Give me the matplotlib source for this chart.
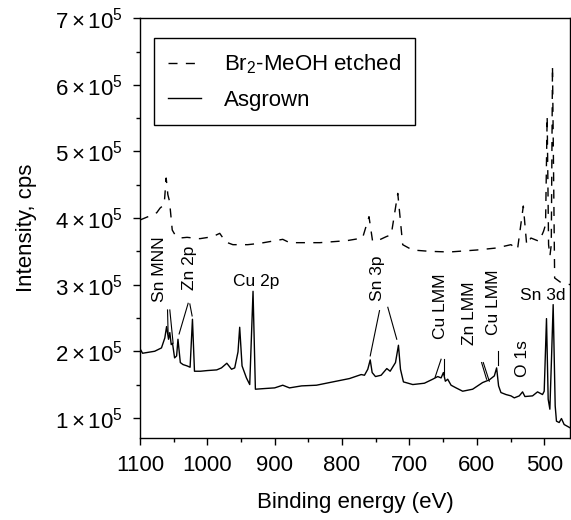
import matplotlib
matplotlib.use("Agg")
import matplotlib.pyplot as plt
from matplotlib.ticker import MultipleLocator, FixedLocator, FixedFormatter

plt.rcParams['font.family'] = ['Liberation Sans', 'DejaVu Sans']
plt.rcParams['mathtext.fontset'] = 'custom'
plt.rcParams['mathtext.rm'] = 'Liberation Sans'
plt.rcParams['mathtext.it'] = 'Liberation Sans:italic'
plt.rcParams['mathtext.bf'] = 'Liberation Sans:bold'

# ---------------- data ----------------
asgrown_ev = [1100, 1096, 1090, 1078, 1068, 1063, 1060.4, 1057.5, 1055.6, 1053.5, 1051.6,
              1048.5, 1045.5, 1043.5, 1040, 1036, 1030, 1025.5, 1022, 1019, 1010, 1000, 986,
              979, 971, 964, 959.3, 954.4, 951.9, 948.4, 941.9, 937, 932.1, 928.6, 915, 900,
              888, 878, 860, 838, 813.6, 789, 771.6, 766.7, 761.8, 758.2, 755.3, 750.4, 742,
              733.6, 728.6, 720.7, 716.3, 713.3, 708.9, 695, 677.8, 665.5, 658, 653, 649.6,
              646.7, 643.2, 638.2, 630.8, 621, 606.2, 591.4, 581.5, 574, 570.6, 567.7, 564.2,
              556.7, 549.3, 544.4, 537, 532.1, 528.6, 517.3, 509.9, 502.5, 500, 496.6, 494.1,
              491.6, 489.2, 486.7, 483.7, 481.8, 477.8, 474.4, 470.4, 461.5]
asgrown_i = [2.04e5, 1.97e5, 1.98e5, 2.00e5, 2.05e5, 2.20e5, 2.37e5, 2.18e5, 2.28e5, 2.10e5, 2.12e5,
             1.90e5, 1.93e5, 2.18e5, 1.83e5, 1.80e5, 1.78e5, 1.76e5, 2.48e5, 1.70e5, 1.70e5, 1.71e5, 1.72e5,
             1.75e5, 1.82e5, 1.73e5, 1.75e5, 1.99e5, 2.36e5, 1.78e5, 1.60e5, 1.50e5, 2.90e5, 1.43e5, 1.44e5, 1.45e5,
             1.49e5, 1.45e5, 1.48e5, 1.49e5, 1.54e5, 1.59e5, 1.65e5, 1.64e5, 1.73e5, 1.87e5, 1.68e5, 1.62e5, 1.64e5,
             1.74e5, 1.70e5, 1.83e5, 2.09e5, 1.73e5, 1.54e5, 1.50e5, 1.52e5, 1.58e5, 1.62e5, 1.60e5, 1.68e5,
             1.55e5, 1.58e5, 1.49e5, 1.45e5, 1.40e5, 1.43e5, 1.53e5, 1.57e5, 1.63e5, 1.75e5, 1.48e5, 1.38e5,
             1.35e5, 1.33e5, 1.30e5, 1.33e5, 1.39e5, 1.32e5, 1.33e5, 1.39e5, 1.35e5, 1.40e5, 2.49e5, 1.28e5,
             1.13e5, 1.88e5, 2.70e5, 1.18e5, 0.95e5, 0.93e5, 0.99e5, 0.90e5, 0.85e5]

etched_ev = [1100, 1088, 1075, 1070, 1064, 1061, 1058.5, 1056, 1052, 1048, 1040.7, 1030, 1011,
             992, 981.5, 972.6, 962, 940, 922, 888, 877.8, 850, 833, 793, 769.6, 760, 754.8,
             749.3, 734.5, 727, 717.3, 710, 695.6, 670, 640.7, 600, 571, 549.3, 539.6, 531,
             526, 519.7, 507.4, 501, 498, 495.6, 493.5, 491.5, 489.5, 487.7, 484.5, 475, 461.5]
etched_i = [3.97e5, 4.02e5, 4.08e5, 4.15e5, 4.20e5, 4.60e5, 4.35e5, 4.25e5, 3.82e5, 3.75e5, 3.70e5, 3.71e5, 3.69e5,
            3.72e5, 3.77e5, 3.64e5, 3.60e5, 3.60e5, 3.62e5, 3.68e5, 3.63e5, 3.63e5, 3.63e5, 3.66e5, 3.70e5, 4.02e5, 3.66e5,
            3.65e5, 3.72e5, 3.75e5, 4.37e5, 3.60e5, 3.52e5, 3.50e5, 3.49e5, 3.52e5, 3.55e5, 3.60e5, 3.53e5, 4.18e5,
            3.60e5, 3.70e5, 3.65e5, 3.80e5, 3.90e5, 5.53e5, 3.60e5, 3.43e5, 3.60e5, 6.28e5, 3.10e5, 3.03e5, 3.00e5]

series_labels = ["Br$_2$-MeOH etched", "Asgrown"]

x_ticks = [1100, 1000, 900, 800, 700, 600, 500]
y_ticks = [1e5, 2e5, 3e5, 4e5, 5e5, 6e5, 7e5]
y_tick_labels = [r"$1\times10^{5}$", r"$2\times10^{5}$", r"$3\times10^{5}$", r"$4\times10^{5}$",
                 r"$5\times10^{5}$", r"$6\times10^{5}$", r"$7\times10^{5}$"]

# peak labels: (text, eV, intensity, rotation)
peak_labels = [("Sn MNN", 1071.1, 3.23e5, 90), ("Zn 2p", 1025.9, 3.25e5, 90),
               ("Cu 2p", 927.1, 3.05e5, 0), ("Sn 3p", 748.1, 3.10e5, 90),
               ("Cu LMM", 654.1, 2.68e5, 90), ("Zn LMM", 611.1, 2.57e5, 90),
               ("Cu LMM", 575.6, 2.73e5, 90), ("O 1s", 531.9, 1.89e5, 90),
               ("Sn 3d", 502.0, 2.83e5, 0)]
# leader lines: (eV1, I1, eV2, I2)
leader_lines = [(1059.0, 2.62e5, 1058.1, 2.26e5), (1055.6, 2.62e5, 1050.7, 2.12e5),
                (1028.4, 2.72e5, 1041.8, 2.26e5), (1025.9, 2.71e5, 1022.5, 2.53e5),
                (744.4, 2.61e5, 758.2, 1.93e5), (732.1, 2.66e5, 718.8, 2.18e5),
                (653.0, 1.88e5, 661.9, 1.61e5), (649.2, 1.88e5, 649.2, 1.65e5),
                (592.9, 1.83e5, 585.5, 1.58e5), (590.4, 1.83e5, 581.5, 1.55e5),
                (569.2, 2.00e5, 569.2, 1.80e5)]

# ---------------- plot ----------------
fig = plt.figure(figsize=(5.71, 5.20), dpi=100)
ax = fig.add_axes([0.245, 0.158, 0.7535, 0.807])

ax.plot(etched_ev, etched_i, color='black', lw=1.0, dashes=(6.5, 6), label=series_labels[0])
ax.plot(asgrown_ev, asgrown_i, color='black', lw=1.0, label=series_labels[1])

for txt, ex, iy, rot in peak_labels:
    ax.text(ex, iy, txt, rotation=rot, ha='center', va='center', fontsize=12.5)
for x1, y1, x2, y2 in leader_lines:
    ax.plot([x1, x2], [y1, y2], color='black', lw=0.8)

ax.set_xlim(1100, 461.5)
ax.set_ylim(0.7e5, 7e5)
ax.xaxis.set_major_locator(FixedLocator(x_ticks))
ax.xaxis.set_minor_locator(MultipleLocator(50))
ax.yaxis.set_major_locator(FixedLocator(y_ticks))
ax.yaxis.set_major_formatter(FixedFormatter(y_tick_labels))
ax.yaxis.set_minor_locator(MultipleLocator(0.5e5))
ax.tick_params(which='major', direction='out', length=5, width=1, labelsize=16, pad=7)
ax.tick_params(which='minor', direction='out', length=3, width=1)
for s in ax.spines.values():
    s.set_linewidth(1.0)

ax.set_xlabel("Binding energy (eV)", fontsize=16, labelpad=12)
ax.set_ylabel("Intensity, cps", fontsize=16, labelpad=13)

leg = ax.legend(loc='upper left', bbox_to_anchor=(0.032, 0.952), fontsize=16,
                frameon=True, fancybox=False, edgecolor='black', framealpha=1,
                handlelength=1.5, handletextpad=1.0, borderpad=0.65, labelspacing=0.6,
                borderaxespad=0)
leg.get_frame().set_linewidth(1.0)

fig.savefig("out.png", dpi=100)
